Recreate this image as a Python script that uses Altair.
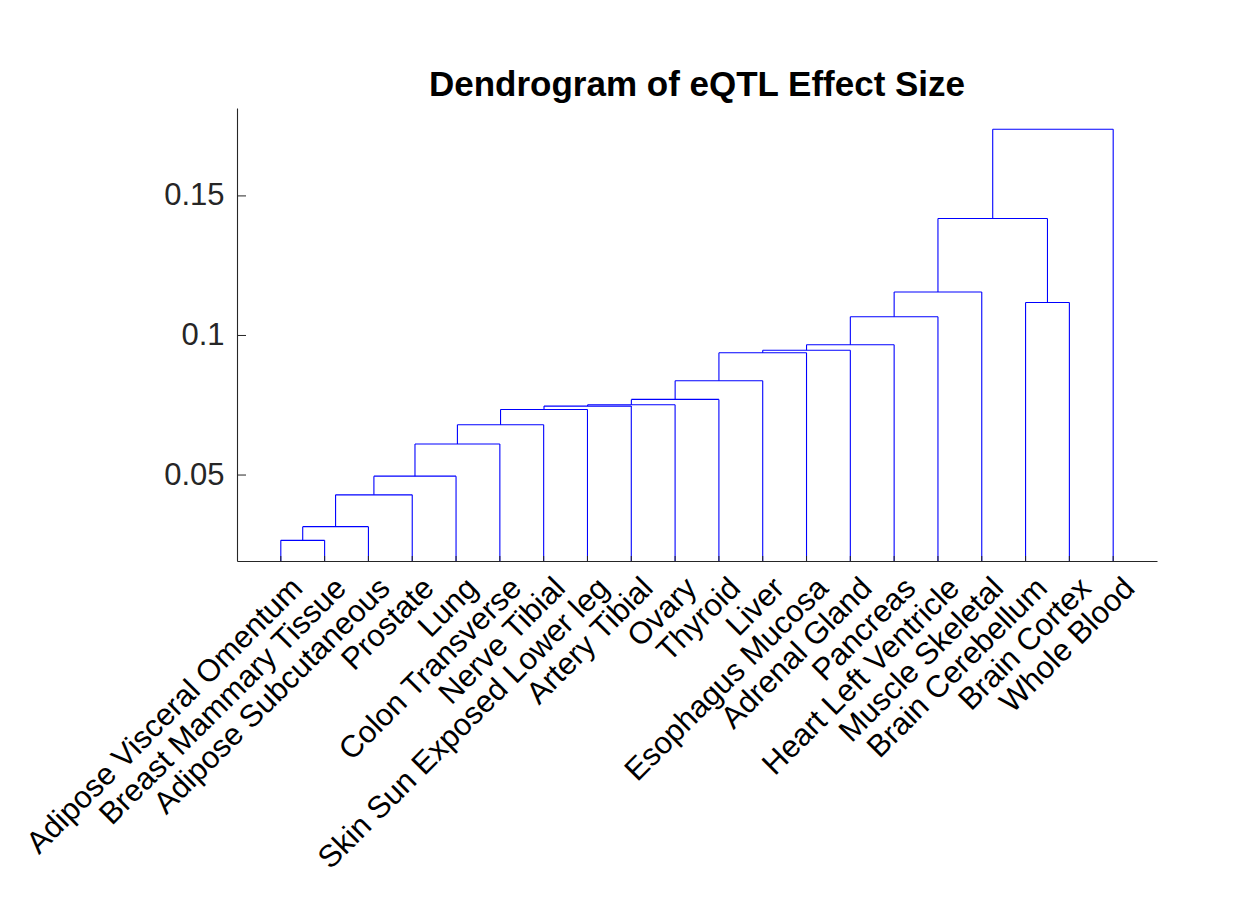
import altair as alt
import pandas as pd

# Leaf labels in dendrogram display order
tissues = [
    "Adipose Visceral Omentum", "Breast Mammary Tissue", "Adipose Subcutaneous",
    "Prostate", "Lung", "Colon Transverse", "Nerve Tibial",
    "Skin Sun Exposed Lower leg", "Artery Tibial", "Ovary", "Thyroid", "Liver",
    "Esophagus Mucosa", "Adrenal Gland", "Pancreas", "Heart Left Ventricle",
    "Muscle Skeletal", "Brain Cerebellum", "Brain Cortex", "Whole Blood",
]

# Linkage table: nodes 1..20 are leaves, row r creates node 21 + r
link_left = [1, 21, 22, 23, 24, 25, 26, 27, 28, 29, 30, 31, 32, 33, 34, 18, 35, 37, 38]
link_right = [2, 3, 4, 5, 6, 7, 8, 9, 10, 11, 12, 13, 14, 15, 16, 19, 17, 36, 20]
link_height = [0.0266, 0.0315, 0.0429, 0.0496, 0.0611, 0.0680, 0.0735, 0.0747,
               0.0752, 0.0771, 0.0838, 0.0938, 0.0947, 0.0967, 0.1067, 0.1118,
               0.1156, 0.1419, 0.1739]

y_ticks = [0.05, 0.1, 0.15]
y_range = [0.0192, 0.1815]

# Build the U-shaped links
n = len(tissues)
pos = {i + 1: float(i + 1) for i in range(n)}
hgt = {i + 1: 0.0 for i in range(n)}
segs = []
for r, (a, b, h) in enumerate(zip(link_left, link_right, link_height)):
    node = n + 1 + r
    segs.append({"x": pos[a], "x2": pos[a], "y": hgt[a], "y2": h})
    segs.append({"x": pos[b], "x2": pos[b], "y": hgt[b], "y2": h})
    segs.append({"x": pos[a], "x2": pos[b], "y": h, "y2": h})
    pos[node] = (pos[a] + pos[b]) / 2
    hgt[node] = h
links = pd.DataFrame(segs)

FONT = "Liberation Sans"
AXC = "#262626"
W, H = 920, 453

xscale = alt.Scale(domain=[0, n + 1], nice=False, zero=False)
yscale = alt.Scale(domain=y_range, nice=False, zero=False)

x_axis = alt.Axis(values=list(range(1, n + 1)), labels=False, title=None,
                  ticks=False, grid=False, domainColor=AXC, domainWidth=1.1)
y_axis = alt.Axis(values=y_ticks, format=".2~f", title=None, ticks=False, grid=False,
                  domainColor=AXC, domainWidth=1.1, labelPadding=13, labelFont=FONT,
                  labelFontSize=31, labelColor=AXC, labelFlush=False)

tree = alt.Chart(links).mark_rule(color="#0000ff", strokeWidth=1.1, clip=True).encode(
    x=alt.X("x:Q", scale=xscale, axis=x_axis),
    x2="x2:Q",
    y=alt.Y("y:Q", scale=yscale, axis=y_axis),
    y2="y2:Q",
)

# Rotated leaf labels under the axis
leaf_df = pd.DataFrame({"i": list(range(1, n + 1)), "name": tissues})
leaf_labels = alt.Chart(leaf_df).mark_text(
    angle=315, align="right", baseline="alphabetic", dx=-4, dy=37,
    font=FONT, fontSize=31, color="black",
).encode(
    x=alt.X("i:Q", scale=xscale, axis=x_axis),
    y=alt.value(H),
    text="name:N",
)

# Inward-pointing tick marks
ytick_df = pd.DataFrame({"v": y_ticks})
yticks = alt.Chart(ytick_df).mark_rule(color=AXC, strokeWidth=1).encode(
    y=alt.Y("v:Q", scale=yscale, axis=y_axis),
    x=alt.value(0), x2=alt.value(9),
)
xticks = alt.Chart(leaf_df).mark_rule(color=AXC, strokeWidth=1).encode(
    x=alt.X("i:Q", scale=xscale, axis=x_axis),
    y=alt.value(H), y2=alt.value(H - 5),
)

chart = alt.layer(tree, yticks, xticks, leaf_labels).properties(
    width=W, height=H, background="white",
    title=alt.TitleParams("Dendrogram of eQTL Effect Size", font=FONT, fontSize=35,
                          fontWeight="bold", color="black", anchor="middle",
                          frame="group", offset=5),
    autosize=alt.AutoSizeParams(type="none"),
    padding={"left": 237, "top": 108, "right": 81, "bottom": 339},
).configure_view(stroke=None)

chart.save("out.html", embed_options={"renderer": "svg", "actions": False})
